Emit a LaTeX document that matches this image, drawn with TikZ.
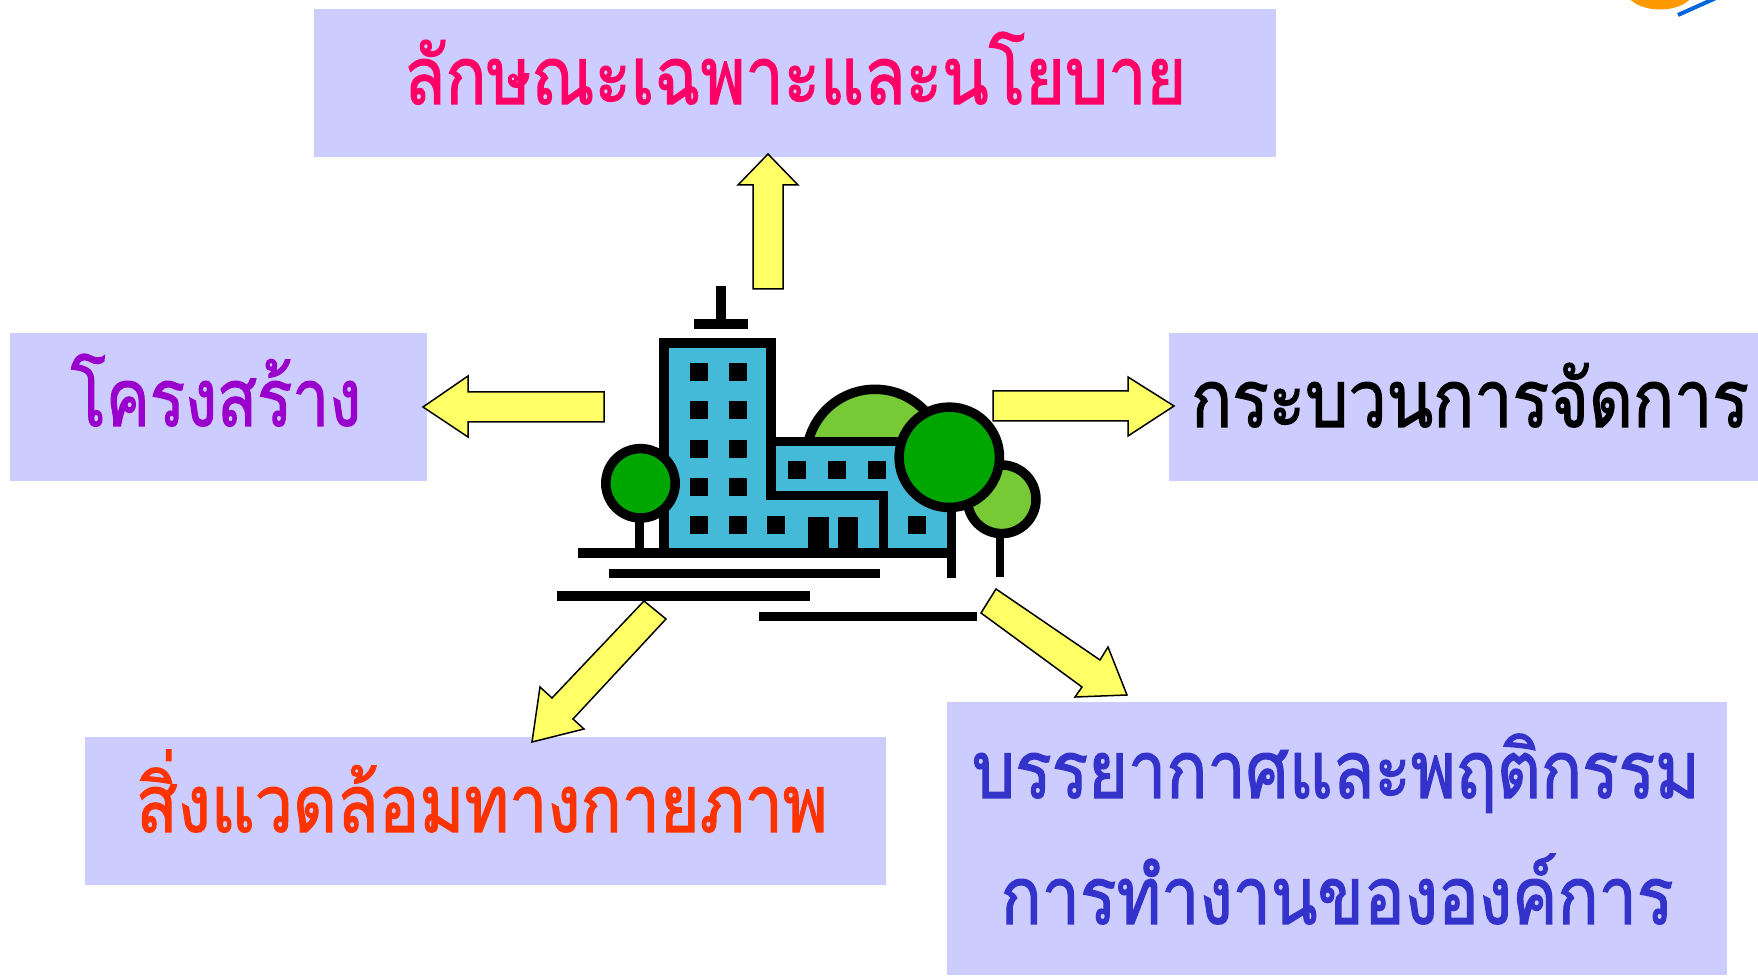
\documentclass[tikz,border=0pt]{standalone}
\usepackage{fontspec}
\newfontfamily\thai[Script=Thai, FakeStretch=0.85, FakeBold=1.5]{Loma}
\definecolor{boxbg}{RGB}{204,204,255}
\definecolor{arrowfill}{RGB}{255,255,102}
\definecolor{bldblue}{RGB}{69,185,216}
\definecolor{darkleaf}{RGB}{0,166,0}
\definecolor{lightleaf}{RGB}{119,201,54}
\definecolor{tpink}{RGB}{255,0,102}
\definecolor{tpurple}{RGB}{153,0,204}
\definecolor{torange}{RGB}{255,51,0}
\definecolor{tblue}{RGB}{51,51,204}
\definecolor{logoorange}{RGB}{255,153,0}
\definecolor{logoblue}{RGB}{0,102,221}
\tikzset{
  box/.style={fill=boxbg, draw=none, inner sep=0pt},
  label/.style={font=\thai\fontsize{40}{48}\selectfont, anchor=base, inner sep=0pt},
  blockarrow/.style={fill=arrowfill, draw=black, line width=0.75pt, line join=miter},
  outline/.style={draw=black, line width=4.75pt, line join=miter},
  ink/.style={fill=black, draw=none},
}
\begin{document}
\begin{tikzpicture}[x=0.5pt, y=-0.5pt]
\useasboundingbox (0,0) rectangle (1758,977);

% corner logo
\begin{scope}
  \clip (0,0) rectangle (1758,977);
  \fill[logoorange] (1660,-10) ellipse [x radius=34, y radius=19.5];
  \draw[logoblue, line width=2pt] (1678,15) -- (1716,-2);
\end{scope}

% boxes
\node[box, minimum width=481pt, minimum height=74pt] (topbox) at (795,83) {};
\node[box, minimum width=208.5pt, minimum height=74pt] (leftbox) at (218.5,407) {};
\node[box, minimum width=294.5pt, minimum height=74pt] (rightbox) at (1463.5,407) {};
\node[box, minimum width=400.5pt, minimum height=74pt] (blbox) at (485.5,811) {};
\node[box, minimum width=390pt, minimum height=136.5pt] (brbox) at (1337,838.5) {};

% labels
\node[label, text=tpink] (toptext) at (795,104) {ลักษณะเฉพาะและนโยบาย};
\node[label, text=tpurple, xscale=0.965] (lefttext) at (216,426) {โครงสร้าง};
\node[label, text=black] (righttext) at (1470,427) {กระบวนการจัดการ};
\node[label, text=torange] (bltext) at (482,832) {สิ่งแวดล้อมทางกายภาพ};
\node[label, text=tblue] (brtext1) at (1336,798) {บรรยากาศและพฤติกรรม};
\node[label, text=tblue] (brtext2) at (1337,924) {การทำงานขององค์การ};

% block arrows
\draw[blockarrow] (753,289) -- (783,289) -- (783,185) -- (798,185) -- (768,154) -- (738,185) -- (753,185) -- cycle;
\draw[blockarrow] (604,392) -- (604,422) -- (468,422) -- (468,437) -- (423,407) -- (468,376) -- (468,392) -- cycle;
\draw[blockarrow] (993,391) -- (1128,391) -- (1128,377) -- (1174,406) -- (1128,436) -- (1128,421) -- (993,421) -- cycle;
\draw[blockarrow] (644,601) -- (666,619) -- (573,719) -- (584,729) -- (532,742) -- (540,687) -- (552,698) -- cycle;
\draw[blockarrow] (996,589) -- (1100,660) -- (1108,647) -- (1127,695) -- (1075,697) -- (1082,687) -- (981,613) -- cycle;

% building: hill behind
\draw[outline, fill=lightleaf] (875,458) circle [radius=68.7];
% antenna
\fill[ink] (716,286) rectangle (726,320);
\fill[ink] (694,319) rectangle (748,329);
% tower and annex
\draw[outline, fill=bldblue] (664,553) -- (664,343) -- (771,343) -- (771,441.3) -- (951.3,441.3) -- (951.3,553) -- cycle;
\draw[outline] (771,441.3) -- (771,495.3) -- (883.7,495.3) -- (883.7,553);
% windows
\foreach \y in {363.3,401,440,477.7,516} {
  \fill[ink] (690,\y) rectangle ++(18,18);
  \fill[ink] (729,\y) rectangle ++(18,18);
}
\fill[ink] (767,516) rectangle ++(18,18);
\foreach \x in {787.7,827.7,867.7} \fill[ink] (\x,461) rectangle ++(18,18);
\fill[ink] (907.7,516) rectangle ++(18,18);
% doors
\fill[ink] (808.3,516.7) rectangle (829,550);
\fill[ink] (837.7,516.7) rectangle (858.3,550);
% ground and street lines
\fill[ink] (578,548.3) rectangle (956,558.3);
\fill[ink] (609,569.3) rectangle (880,578.3);
\fill[ink] (556.7,591) rectangle (810,601);
\fill[ink] (759.3,611.7) rectangle (976.7,621);
% trunks
\fill[ink] (635,520) rectangle (644,553);
\fill[ink] (946.7,500) rectangle (956,578.3);
\fill[ink] (995.7,530) rectangle (1004,576.7);
% trees
\draw[outline, fill=lightleaf] (1001.7,499.3) circle [radius=34.3];
\draw[outline, fill=darkleaf] (949.3,457.3) circle [radius=50.2];
\draw[outline, fill=darkleaf] (640.5,483.3) circle [radius=34.7];
\end{tikzpicture}
\end{document}
